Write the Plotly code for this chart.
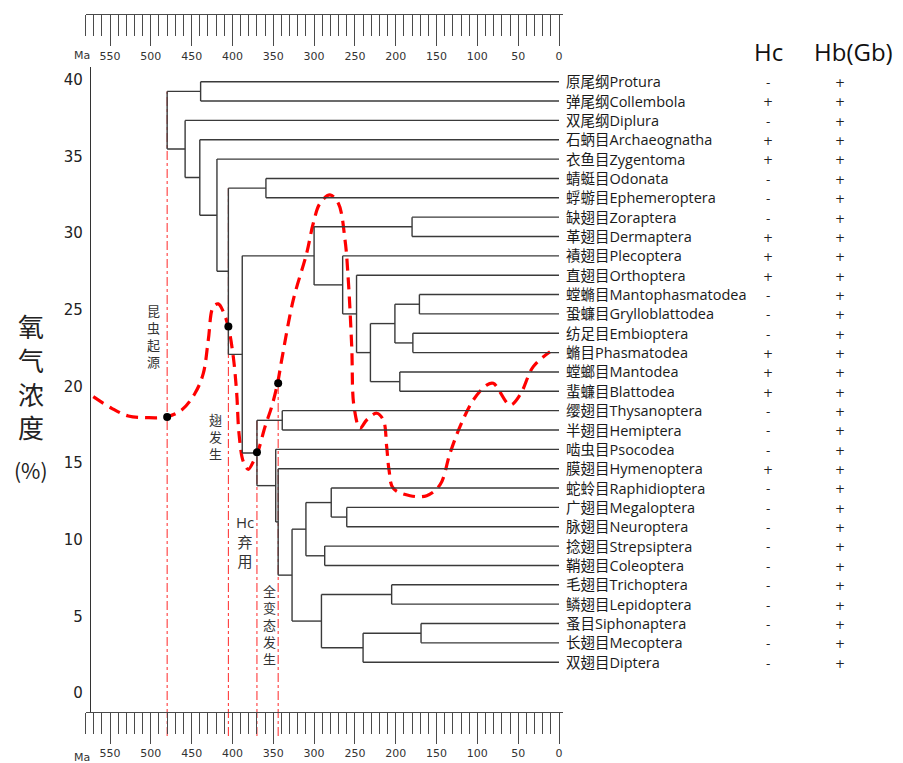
import plotly.graph_objects as go

# ---------------- data ----------------
taxa_cn = ["原尾纲", "弹尾纲", "双尾纲", "石蛃目", "衣鱼目", "蜻蜓目", "蜉蝣目", "缺翅目",
           "革翅目", "襀翅目", "直翅目", "螳䗛目", "蛩蠊目", "纺足目", "䗛目", "螳螂目",
           "蜚蠊目", "缨翅目", "半翅目", "啮虫目", "膜翅目", "蛇蛉目", "广翅目", "脉翅目",
           "捻翅目", "鞘翅目", "毛翅目", "鳞翅目", "蚤目", "长翅目", "双翅目"]
taxa_en = ["Protura", "Collembola", "Diplura", "Archaeognatha", "Zygentoma", "Odonata",
           "Ephemeroptera", "Zoraptera", "Dermaptera", "Plecoptera", "Orthoptera",
           "Mantophasmatodea", "Grylloblattodea", "Embioptera", "Phasmatodea", "Mantodea",
           "Blattodea", "Thysanoptera", "Hemiptera", "Psocodea", "Hymenoptera",
           "Raphidioptera", "Megaloptera", "Neuroptera", "Strepsiptera", "Coleoptera",
           "Trichoptera", "Lepidoptera", "Siphonaptera", "Mecoptera", "Diptera"]
hc_status = ["-", "+", "-", "+", "+", "-", "-", "-", "+", "+", "+", "-", "-", "-", "+", "+",
             "+", "-", "-", "-", "+", "-", "-", "-", "-", "-", "-", "-", "-", "-", "-"]
hb_status = ["+", "+", "+", "+", "+", "+", "+", "+", "+", "+", "+", "+", "+", "+", "+", "+",
             "+", "+", "+", "+", "+", "+", "+", "+", "+", "+", "+", "+", "+", "+", "+"]

# tree: node -> (divergence time in Ma, child a, child b)
tree_nodes = {
    "root": (480, "N_PC", "N_Dip"),
    "N_PC": (439, "Protura", "Collembola"),
    "N_Dip": (458, "Diplura", "N_Ins"),
    "N_Ins": (440, "Archaeognatha", "N_Dic"),
    "N_Dic": (419, "Zygentoma", "N_Pter"),
    "N_Pter": (405, "N_Pal", "N_Neo"),
    "N_Pal": (359, "Odonata", "Ephemeroptera"),
    "N_Neo": (388, "N_Poly", "N_Eum"),
    "N_Poly": (300, "N_ZD", "N_Ple"),
    "N_ZD": (180, "Zoraptera", "Dermaptera"),
    "N_Ple": (265, "Plecoptera", "N_Ort"),
    "N_Ort": (248, "Orthoptera", "N_X"),
    "N_X": (231, "N_MGEP", "N_Dict"),
    "N_MGEP": (201, "N_MG", "N_EP"),
    "N_MG": (171, "Mantophasmatodea", "Grylloblattodea"),
    "N_EP": (179, "Embioptera", "Phasmatodea"),
    "N_Dict": (195, "Mantodea", "Blattodea"),
    "N_Eum": (370, "N_TH", "N_PH"),
    "N_TH": (339, "Thysanoptera", "Hemiptera"),
    "N_PH": (347, "Psocodea", "N_Holo"),
    "N_Holo": (344, "Hymenoptera", "N_Ap"),
    "N_Ap": (327, "N_NC", "N_Pan"),
    "N_NC": (310, "N_Neu", "N_SC"),
    "N_Neu": (279, "Raphidioptera", "N_MN"),
    "N_MN": (260, "Megaloptera", "Neuroptera"),
    "N_SC": (287, "Strepsiptera", "Coleoptera"),
    "N_Pan": (291, "N_TL", "N_SMD"),
    "N_TL": (205, "Trichoptera", "Lepidoptera"),
    "N_SMD": (240, "N_SM", "Diptera"),
    "N_SM": (169, "Siphonaptera", "Mecoptera"),
}
tree_root = "root"
leaf_time = 0

# atmospheric oxygen curve (Ma, %)
o2_time = [570.5, 547.9, 527.6, 505.0, 480.6, 462.2, 445.9, 435.7, 429.6, 423.5, 417.3,
           411.2, 405.1, 399.0, 394.8, 392.0, 386.7, 380.6, 374.5, 369.1, 360.1, 351.9,
           344.6, 339.7, 325.5, 309.1, 301.0, 292.8, 280.5, 270.3, 262.1, 258.1, 253.9,
           251.1, 243.8, 235.6, 223.3, 215.2, 211.1, 208.2, 203.0, 182.5, 162.1, 145.8,
           133.5, 121.3, 105.0, 88.6, 80.5, 60.0, 47.8, 31.5, 11.0]
o2_level = [19.33, 18.57, 18.07, 17.96, 18.02, 18.46, 19.55, 20.85, 23.03, 25.20, 25.38,
            24.87, 23.89, 21.94, 19.55, 16.94, 15.09, 14.59, 15.09, 15.70, 17.37, 18.68,
            20.24, 21.72, 25.64, 28.68, 30.64, 31.94, 32.49, 31.94, 29.55, 26.94, 22.59,
            18.68, 17.27, 17.81, 18.25, 17.81, 16.07, 14.55, 13.35, 12.87, 12.87, 13.57,
            15.64, 17.37, 19.11, 20.09, 20.20, 18.79, 19.44, 21.29, 22.26]

# key events
event_time = [480, 405, 370, 344]
event_o2 = [18.0, 23.9, 15.7, 20.2]
event_node = ["root", "N_Pter", "N_Eum", "N_Holo"]
event_labels = [["昆", "虫", "起", "源"], ["翅", "发", "生"], ["Hc", "弃", "用"],
                ["全", "变", "态", "发", "生"]]

time_major = [550, 500, 450, 400, 350, 300, 250, 200, 150, 100, 50, 0]
time_minor = [t for t in range(0, 590, 10) if t % 50 != 0]
o2_ticks = [0, 5, 10, 15, 20, 25, 30, 35, 40]
y_title = ["氧", "气", "浓", "度"]

# ---------------- layout geometry (pixels) ----------------
W, H = 903, 763
MB = 51                    # bottom margin -> axis line at y=712
PLOT_H = H - MB
X_ZERO_PX = 559.0          # pixel x of 0 Ma
PX_PER_MA = 0.81636
Y_ZERO_PX = 693.0          # pixel y of 0 % O2
PX_PER_O2 = 15.33
ROW0_PX = 81.7
ROW_STEP = 19.35
Y_TOP_PX = 67.0


def t_of_px(px):
    return (X_ZERO_PX - px) / PX_PER_MA


def px_paper(px):
    return px / W


def py_paper(py):
    return (PLOT_H - py) / PLOT_H


x_range = [t_of_px(85.5), t_of_px(563.1)]
x_domain = [85.5 / W, 563.1 / W]
y_dom_top = (PLOT_H - Y_TOP_PX) / PLOT_H
y_range = [(Y_ZERO_PX - PLOT_H) / PX_PER_O2, (Y_ZERO_PX - Y_TOP_PX) / PX_PER_O2]
row_range = [(PLOT_H - ROW0_PX) / ROW_STEP, (Y_TOP_PX - ROW0_PX) / ROW_STEP]


def o2_paper(v):
    return y_dom_top * (v - y_range[0]) / (y_range[1] - y_range[0])


def row_paper(r):
    return y_dom_top * (row_range[0] - r) / (row_range[0] - row_range[1])


# ---------------- dendrogram ----------------
leaf_row = {name: i for i, name in enumerate(taxa_en)}
seg_x, seg_y = [], []
node_info = {}


def layout_node(name):
    if name in leaf_row:
        return leaf_time, leaf_row[name]
    t, a, b = tree_nodes[name]
    ta, ya = layout_node(a)
    tb, yb = layout_node(b)
    seg_x.extend([t, t, None, t, ta, None, t, tb, None])
    seg_y.extend([ya, yb, None, ya, ya, None, yb, yb, None])
    node_info[name] = (t, min(ya, yb))
    return t, (ya + yb) / 2.0


layout_node(tree_root)

fig = go.Figure()
fig.add_trace(go.Scatter(x=seg_x, y=seg_y, yaxis="y2", mode="lines",
                         line=dict(color="#3a3a3a", width=1.4), hoverinfo="skip",
                         showlegend=False))
fig.add_trace(go.Scatter(x=o2_time, y=o2_level, mode="lines",
                         line=dict(color="#ff0000", width=3.2, dash="12px,7px",
                                   shape="spline", smoothing=1.0),
                         hoverinfo="skip", showlegend=False))
# event dots (on the top time axis, which shares the same range)
fig.add_trace(go.Scatter(x=event_time, y=event_o2, xaxis="x2", mode="markers",
                         marker=dict(color="black", size=8), hoverinfo="skip",
                         showlegend=False))

shapes = []
annotations = []
CJK = "Noto Sans CJK SC"
LAT = "Open Sans, Noto Sans CJK SC"

# event red dash-dot lines + vertical labels (center x, center y, font size)
label_px = [(153.5, 336, 13), (215.5, 437.5, 13), (245, 541, 15), (269.5, 624.5, 13)]
for k, t in enumerate(event_time):
    top = max(o2_paper(event_o2[k]), row_paper(node_info[event_node[k]][1]))
    shapes.append(dict(type="line", xref="x", yref="paper", x0=t, x1=t,
                       y0=py_paper(736), y1=top,
                       line=dict(color="rgba(255,0,0,0.85)", width=1, dash="dashdot"),
                       layer="below"))
    cx, cy, fs = label_px[k]
    annotations.append(dict(xref="paper", yref="paper", x=px_paper(cx),
                            y=py_paper(cy), text="<br>".join(event_labels[k]),
                            showarrow=False, xanchor="center", yanchor="middle",
                            align="center",
                            font=dict(family=LAT, size=fs, color="#333333")))

# leaf labels and Hc / Hb columns
for i in range(len(taxa_en)):
    annotations.append(dict(xref="paper", yref="y2", x=px_paper(564), y=i,
                            text=taxa_cn[i] + taxa_en[i], showarrow=False,
                            xanchor="left", yanchor="middle",
                            font=dict(family=LAT, size=14.5, color="#1a1a1a")))
    annotations.append(dict(xref="paper", yref="y2", x=px_paper(767.7), y=i + 0.07,
                            text=hc_status[i], showarrow=False, xanchor="center",
                            yanchor="middle",
                            font=dict(family="DejaVu Sans", size=12, color="#222222")))
    annotations.append(dict(xref="paper", yref="y2", x=px_paper(840), y=i + 0.07,
                            text=hb_status[i], showarrow=False, xanchor="center",
                            yanchor="middle",
                            font=dict(family="DejaVu Sans", size=12, color="#222222")))

# column headers
annotations.append(dict(xref="paper", yref="paper", x=px_paper(768.5), y=py_paper(52),
                        text="Hc", showarrow=False, xanchor="center", yanchor="middle",
                        font=dict(family="Open Sans", size=24, color="#111111")))
annotations.append(dict(xref="paper", yref="paper", x=px_paper(853.5), y=py_paper(52),
                        text="Hb(Gb)", showarrow=False, xanchor="center", yanchor="middle",
                        font=dict(family="Open Sans", size=24, color="#111111")))

# y title (vertical stack)
annotations.append(dict(xref="paper", yref="paper", x=px_paper(31), y=py_paper(376),
                        text="<br>".join(y_title), showarrow=False, xanchor="center",
                        yanchor="middle", align="center",
                        font=dict(family=CJK, size=26, color="#222222")))
annotations.append(dict(xref="paper", yref="paper", x=px_paper(31), y=py_paper(470),
                        text="(%)", showarrow=False, xanchor="center", yanchor="middle",
                        font=dict(family=CJK, size=21, color="#222222")))

# "Ma" unit labels
for py in (56, 757):
    annotations.append(dict(xref="paper", yref="paper", x=px_paper(82), y=py_paper(py),
                            text="Ma", showarrow=False, xanchor="center", yanchor="middle",
                            font=dict(family="DejaVu Sans", size=11, color="#333333")))

time_axis = dict(range=x_range, domain=x_domain, showgrid=False, zeroline=False,
                 showline=True, linecolor="#4a4a4a", linewidth=1.3,
                 tickmode="array", tickvals=time_major,
                 ticktext=[str(v) for v in time_major],
                 ticks="outside", ticklen=31, tickwidth=1.2, tickcolor="#4a4a4a",
                 tickfont=dict(family="DejaVu Sans", size=11, color="#333333"),
                 minor=dict(tickmode="array", tickvals=time_minor, ticks="outside",
                            ticklen=21, tickwidth=1.2, tickcolor="#4a4a4a"),
                 fixedrange=True)

fig.update_layout(
    width=W, height=H, autosize=False,
    margin=dict(l=0, r=0, t=0, b=MB, pad=0),
    paper_bgcolor="white", plot_bgcolor="white",
    xaxis=dict(time_axis, side="bottom"),
    xaxis2=dict(time_axis, overlaying="x", anchor="free",
                position=py_paper(14.3), side="bottom"),
    yaxis=dict(range=y_range, domain=[0, y_dom_top], anchor="free",
               position=px_paper(90), side="left", showgrid=False, zeroline=False,
               showline=True, linecolor="#333333", linewidth=1.3, ticks="",
               tickmode="array", tickvals=o2_ticks, ticklabelstandoff=4,
               tickfont=dict(family="DejaVu Sans", size=15, color="#222222"),
               fixedrange=True),
    yaxis2=dict(range=row_range, overlaying="y", visible=False, fixedrange=True),
    shapes=shapes, annotations=annotations, showlegend=False,
)

fig.write_html("out.html", config={"displayModeBar": False},
               post_script="document.body.style.margin='0';")
